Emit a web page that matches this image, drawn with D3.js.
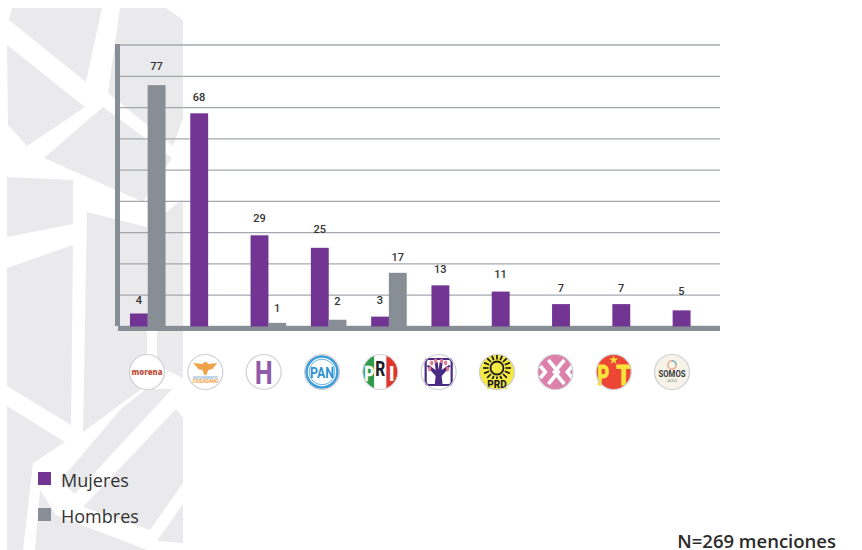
<!DOCTYPE html>
<html>
<head>
<meta charset="utf-8">
<script src="https://cdn.jsdelivr.net/npm/d3@7"></script>
<style>html,body{margin:0;padding:0;background:#fff}svg{display:block}</style>
</head>
<body>
<svg id="c" width="862" height="550"></svg>
<script>
const categories = ["morena","mc","pvem_h","pan","pri","tree","prd","x","pt","somos"];
const mujeres = [4,68,29,25,3,13,11,7,7,5];
const hombres = [77,0,1,2,17,0,0,0,0,0];
const gridTicks = [0,10,20,30,40,50,60,70,80,90];
const seriesNames = ["Mujeres","Hombres"];
const note = "N=269 menciones";

const PURPLE="#733594", GRAY="#878e95", BG="#eaeaec", RING="#cfcfd6";
const svg = d3.select("#c");

// background pattern
const bgShapes = [
 [[12,8],[102,8],[86,82],[9,20]],
 [[120,8],[166,8],[183,20],[183,118],[173,146],[108,93]],
 [[7,45],[85,107],[27,146],[8,125]],
 [[103,107],[172,158],[143,202],[44,158]],
 [[7,177],[73,180],[73,224],[7,237]],
 [[7,268],[73,245],[71,425],[7,386]],
 [[87,212],[147,227],[147,360],[140,390],[83,432]],
 [[157,240],[165,213],[183,199],[183,378],[157,365]],
 [[7,406],[65,442],[33,463],[23,550],[7,550]],
 [[60,481],[120,410],[146,389],[172,389],[75,494]],
 [[83,507],[176,409],[183,418],[183,483],[150,530]],
 [[157,541],[183,504],[183,543]],
 [[40,490],[56,515],[147,550],[35,550]]
];
svg.append("g").selectAll("polygon").data(bgShapes).join("polygon")
  .attr("points",d=>d.join(" ")).attr("fill",BG);

// scales
const x0 = d3.scaleBand().domain(categories).range([117.5,720.5]).paddingInner(0.413).paddingOuter(0.2065);
const x1 = d3.scaleBand().domain(seriesNames).range([0,x0.bandwidth()]);
const y = d3.scaleLinear().domain([0,90]).range([326,44.5]);

// grid
const grid = svg.append("g").attr("transform","translate(720,0)")
  .call(d3.axisLeft(y).tickValues(gridTicks).tickSize(602).tickFormat(""));
grid.select(".domain").remove();
grid.selectAll("line").attr("stroke","#a4a8ae").attr("stroke-width",1.3);

// axis walls
svg.append("rect").attr("x",115).attr("y",44).attr("width",5).attr("height",282).attr("fill",GRAY);
svg.append("rect").attr("x",118).attr("y",326).attr("width",602).attr("height",5).attr("fill",GRAY);

// bars
const series = [
 {name:"Mujeres",values:mujeres,color:PURPLE,lift:[13,16,17,19,17,16,17.5,16,16,19]},
 {name:"Hombres",values:hombres,color:GRAY,lift:[19,0,15,19,16,0,0,0,0,0]}
];
series.forEach(s=>{
  const rows = categories.map((c,i)=>({c,v:s.values[i],lift:s.lift[i]})).filter(d=>d.v>0);
  svg.append("g").selectAll("rect").data(rows).join("rect")
    .attr("x",d=>x0(d.c)+x1(s.name)).attr("width",x1.bandwidth()+0.2)
    .attr("y",d=>y(d.v)).attr("height",d=>y(0)-y(d.v)+0.5).attr("fill",s.color);
  svg.append("g").selectAll("text").data(rows).join("text")
    .attr("x",d=>x0(d.c)+x1(s.name)+x1.bandwidth()/2)
    .attr("y",d=>y(d.v)-d.lift)
    .attr("dy","0.36em").attr("text-anchor","middle")
    .attr("font-family","Roboto").attr("font-weight",500).attr("font-size",11)
    .attr("fill","#333").text(d=>d.v);
});

// logos
const logoX = d3.scalePoint().domain(categories).range([147,672]);
const T=(g,t,x,y,size,fill,weight,fam)=>g.append("text").attr("x",x).attr("y",y).attr("text-anchor","middle")
  .attr("font-family",fam||"Roboto").attr("font-size",size).attr("font-weight",weight||700).attr("fill",fill).text(t);
const drawers = {
 morena(g){ g.append("circle").attr("r",17.5).attr("fill","#fff");
   T(g,"morena",0,3,9.5,"#bf5240",800,"Open Sans").attr("textLength",31).attr("lengthAdjust","spacingAndGlyphs"); },
 mc(g){ g.append("circle").attr("r",17.5).attr("fill","#fff");
   g.append("path").attr("d","M-12,-9 L-3,-8 L-1,-10 L1,-10 L3,-8 L12,-9 L7,-3 L3,-2 L1,3 L-1,3 L-3,-2 L-7,-3 Z").attr("fill","#f0a24a");
   T(g,"MOVIMIENTO",0,6.5,4,"#8fb7dc",700);
   T(g,"CIUDADANO",0,11,4.6,"#f0a24a",700); },
 pvem_h(g){ g.append("circle").attr("r",17.5).attr("fill","#fff");
   T(g,"H",0,11.5,32,"#8f5aa7",700,"Open Sans").attr("textLength",19).attr("lengthAdjust","spacingAndGlyphs"); },
 pan(g){ g.append("circle").attr("r",17.5).attr("fill","#fff");
   g.append("circle").attr("r",15.5).attr("fill","none").attr("stroke","#3f9ed8").attr("stroke-width",2.6);
   g.append("circle").attr("r",12.8).attr("fill","none").attr("stroke","#3f9ed8").attr("stroke-width",0.8);
   T(g,"PAN",0,5.5,15,"#2f93d3",700).attr("textLength",24).attr("lengthAdjust","spacingAndGlyphs"); },
 pri(g,id){ g.append("clipPath").attr("id",id).append("circle").attr("r",17.5);
   const c=g.append("g").attr("clip-path",`url(#${id})`);
   c.append("rect").attr("x",-18).attr("y",-18).attr("width",12).attr("height",36).attr("fill","#2d9b4a");
   c.append("rect").attr("x",-6).attr("y",-18).attr("width",12).attr("height",36).attr("fill","#fff");
   c.append("rect").attr("x",6).attr("y",-18).attr("width",12).attr("height",36).attr("fill","#e0352b");
   T(g,"P",-11,9,20,"#fff",800).attr("stroke","#fff").attr("stroke-width",.3).attr("textLength",10).attr("lengthAdjust","spacingAndGlyphs");
   T(g,"R",0,4,20,"#1d1d2a",800).attr("textLength",10).attr("lengthAdjust","spacingAndGlyphs");
   T(g,"I",11.5,9,20,"#fff",800); },
 tree(g){ g.append("circle").attr("r",17.5).attr("fill","#fff");
   g.append("rect").attr("x",-13).attr("y",-13).attr("width",26).attr("height",26).attr("rx",3).attr("fill","#fff").attr("stroke","#4a2a82").attr("stroke-width",2.2);
   g.append("path").attr("d","M-4,13 L-3,4 L-12,-6 L-10,-7 L-3,-2 L-4,-10 L-1,-10 L0,-2 L1,-10 L4,-10 L3,-2 L10,-7 L12,-6 L3,4 L4,13 Z").attr("fill","#4a2a82");
   [[-7,-9],[-3,-11],[3,-11],[7,-9],[-9,-3],[9,-3]].forEach(p=>g.append("ellipse").attr("cx",p[0]).attr("cy",p[1]).attr("rx",1.6).attr("ry",2.4).attr("fill","#e27a8e")); },
 prd(g){ g.append("circle").attr("r",17.5).attr("fill","#f4e842");
   g.append("circle").attr("cy",-4).attr("r",6.5).attr("fill","none").attr("stroke","#1a1a1a").attr("stroke-width",1.8);
   d3.range(16).forEach(i=>{const a=i/16*Math.PI*2;
     g.append("line").attr("x1",8.5*Math.cos(a)).attr("y1",-4+8.5*Math.sin(a)).attr("x2",14*Math.cos(a)).attr("y2",-4+14*Math.sin(a)).attr("stroke","#1a1a1a").attr("stroke-width",1.7);});
   g.append("rect").attr("x",-10).attr("y",7).attr("width",20).attr("height",10).attr("fill","#f4e842");
   T(g,"PRD",0,16,10,"#1a1a1a",800); },
 x(g){ g.append("circle").attr("r",17.5).attr("fill","#dd80ab");
   const lines=["M-7,-12 L3,0 L-7,12","M9,-12 L-1,0 L9,12","M-15,-6 L-10,0 L-15,6","M17,-6 L12,0 L17,6"];
   g.selectAll("path.x").data(lines).join("path").attr("d",d=>d).attr("fill","none").attr("stroke","#fff").attr("stroke-width",3.6); },
 pt(g){ g.append("circle").attr("r",17.5).attr("fill","#ee4635");
   T(g,"P",-10.5,13,27,"#f7e33b",800).attr("textLength",12).attr("lengthAdjust","spacingAndGlyphs").attr("stroke","#f7e33b").attr("stroke-width",.8);
   T(g,"T",10,13,27,"#f7e33b",800).attr("textLength",15).attr("lengthAdjust","spacingAndGlyphs").attr("stroke","#f7e33b").attr("stroke-width",.8);
   g.append("path").attr("d",d3.symbol(d3.symbolStar,26)()).attr("transform","translate(0,-12)").attr("fill","#f7e33b"); },
 somos(g){ g.append("circle").attr("r",17.5).attr("fill","#f6f3e8");
   g.append("circle").attr("cy",-7).attr("r",4.2).attr("fill","none").attr("stroke","#e9a58c").attr("stroke-width",1.4);
   g.append("path").attr("d","M0,-11.2 A4.2,4.2 0 0 1 4.2,-7").attr("fill","none").attr("stroke","#7cc0c4").attr("stroke-width",1.4);
   T(g,"SOMOS",0,4.5,8.5,"#3a3a3a",700).attr("textLength",27).attr("lengthAdjust","spacingAndGlyphs");
   T(g,"JALISCO",0,9.5,2.6,"#777",400); }
};
categories.forEach((c,i)=>{
  const g=svg.append("g").attr("transform",`translate(${logoX(c)},372)`);
  drawers[c](g,"clip"+i);
  g.append("circle").attr("r",17.5).attr("fill","none").attr("stroke",RING).attr("stroke-width",1.2);
});

// legend
const legY = d3.scalePoint().domain(seriesNames).range([472,508]);
const leg = svg.append("g").selectAll("g").data(series).join("g")
  .attr("transform",d=>`translate(38,${legY(d.name)})`);
leg.append("rect").attr("width",13).attr("height",13).attr("fill",d=>d.color);
leg.append("text").attr("x",23).attr("y",15).attr("font-family","Open Sans").attr("font-size",18)
  .attr("fill","#333").text(d=>d.name);

svg.append("text").attr("x",836).attr("y",547.5).attr("text-anchor","end")
  .attr("font-family","Open Sans").attr("font-weight",600).attr("font-size",18.5).attr("fill","#2b2b2b").text(note);
</script>
</body>
</html>
